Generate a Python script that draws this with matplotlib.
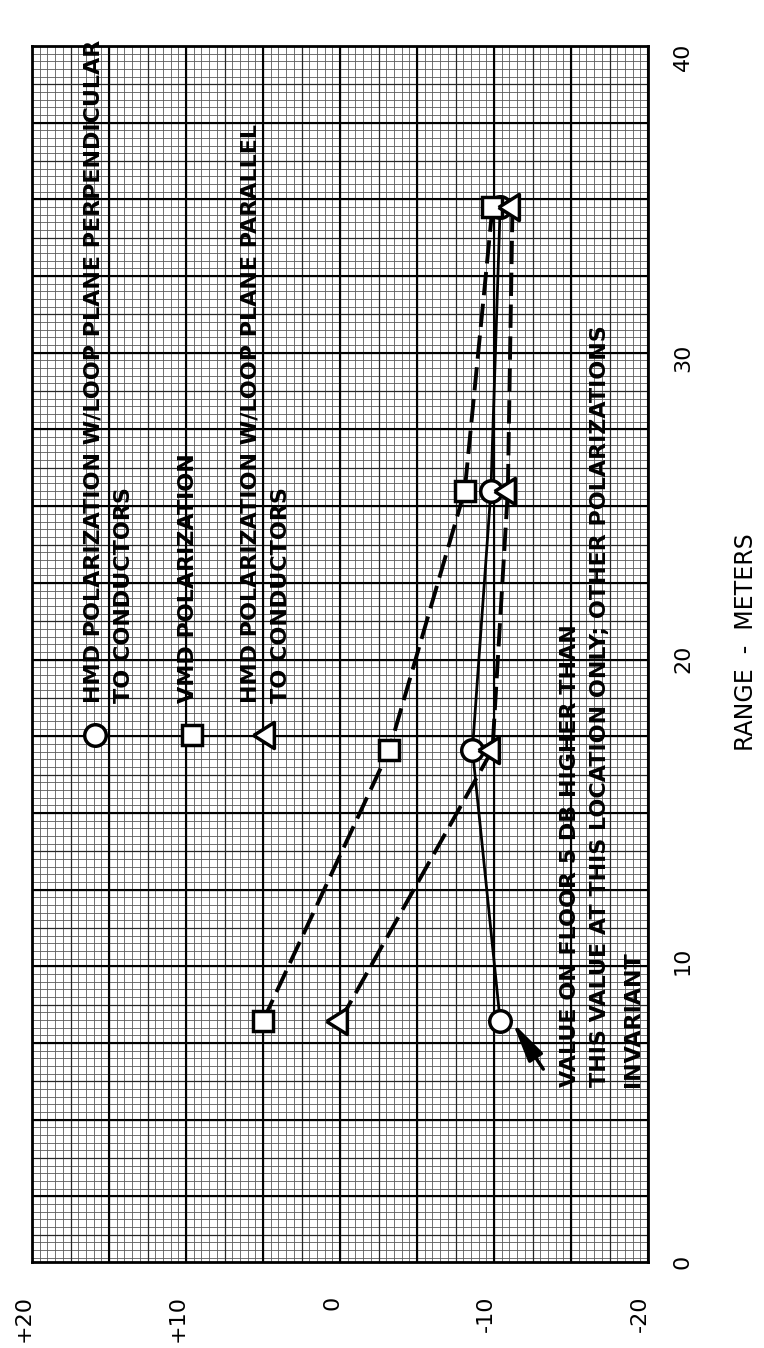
import numpy as np
import matplotlib.pyplot as plt
import matplotlib.transforms as mtransforms

# measured ranges (m)
range_m = [8, 17, 25.6, 35]
# relative level (dB) per polarization
hmd_perp = [-10.4, -8.6, -9.8, -10.4]   # circles, solid
vmd = [5.0, -3.2, -8.1, -9.9]           # squares, dashed
hmd_par = [0.0, -9.9, -10.9, -11.2]     # triangles, dashed

db_ticks = [20, 10, 0, -10, -20]
db_labels = ['+20', '+10', '0', '-10', '-20']
range_ticks = [0, 10, 20, 30, 40]
range_labels = ['0', '10', '20', '30', '40']

W, H = 764, 1348
fig = plt.figure(figsize=(W / 100, H / 100), dpi=100)
ax = fig.add_axes([32 / W, (H - 1262) / H, 616 / W, 1216 / H])
ymax = 40.35
ax.set_xlim(20, -20)
ax.set_ylim(0, ymax)

# graph paper: big squares of 5 dB x 2.545 m, ruled from the top edge
step = 2.545
xs = np.arange(-20, 20.01, 0.5)
ys = ymax - np.arange(0, ymax, step / 10)
ax.vlines(xs, 0, ymax, color='0.35', lw=0.6, zorder=0)
ax.hlines(ys, 20, -20, color='0.35', lw=0.6, zorder=0)
ax.vlines(xs[::5], 0, ymax, color='0.15', lw=0.9, zorder=0)
ax.hlines(ys[::5], 20, -20, color='0.15', lw=0.9, zorder=0)
ax.vlines(xs[::10], 0, ymax, color='black', lw=1.5, zorder=0)
ax.hlines(ys[::10], 20, -20, color='black', lw=1.5, zorder=0)

tri = [(-1.17, 0), (0.58, 1.1), (0.58, -1.1), (-1.17, 0)]
dash = (0, (6, 2.2))
mk = dict(mfc='white', mec='black', mew=2.5, zorder=3)
ax.plot(hmd_perp, range_m, color='black', lw=2.0, marker='o', ms=15.5, **mk)
ax.plot(vmd, range_m, color='black', lw=2.8, ls=dash, marker='s', ms=14, **mk)
ax.plot(hmd_par, range_m, color='black', lw=2.8, ls=dash, marker=tri, ms=20, **mk)

# legend written on the paper
tf = ax.transAxes
kw = dict(rotation=90, ha='center', va='bottom', fontsize=16,
          fontweight='bold', transform=tf)
ax.plot([0.103], [0.433], marker='o', ms=15.5, ls='none', transform=tf, **mk)
ax.text(0.1, 0.46, 'HMD POLARIZATION W/LOOP PLANE PERPENDICULAR', **kw)
ax.text(0.15, 0.46, 'TO CONDUCTORS', **kw)
ax.plot([0.26], [0.433], marker='s', ms=14, ls='none', transform=tf, **mk)
ax.text(0.253, 0.46, 'VMD POLARIZATION', **kw)
ax.plot([0.382], [0.433], marker=tri, ms=20, ls='none', transform=tf, **mk)
ax.text(0.354, 0.46, 'HMD POLARIZATION W/LOOP PLANE PARALLEL', **kw)
ax.text(0.405, 0.46, 'TO CONDUCTORS', **kw)

# note on the first circle
ax.annotate('', xy=(-11.2, 7.95), xytext=(-13.2, 6.4),
            arrowprops=dict(arrowstyle='-|>,head_length=1.2,head_width=0.25',
                            color='black', lw=2.5, mutation_scale=20,
                            shrinkA=0, shrinkB=0))
ax.text(0.874, 0.144, 'VALUE ON FLOOR 5 DB HIGHER THAN', **kw)
ax.text(0.922, 0.144, 'THIS VALUE AT THIS LOCATION ONLY; OTHER POLARIZATIONS', **kw)
ax.text(0.976, 0.144, 'INVARIANT', **kw)

ax.set_xticks(db_ticks, db_labels, rotation=90, fontsize=16)
ax.yaxis.tick_right()
ax.set_yticks(range_ticks, range_labels, rotation=90, fontsize=16, va='center')
ax.tick_params(axis='x', length=0, pad=24)
ax.tick_params(axis='y', length=0, pad=18)
shift = mtransforms.ScaledTranslation(-0.08, 0, fig.dpi_scale_trans)
for lab in ax.get_xticklabels():
    lab.set_transform(lab.get_transform() + shift)
for s in ax.spines.values():
    s.set_linewidth(2)

fig.text(746 / W, 1 - 642 / H, 'RANGE  -  METERS', rotation=90,
         ha='center', va='center', fontsize=17)

fig.savefig('out.png', dpi=100)
